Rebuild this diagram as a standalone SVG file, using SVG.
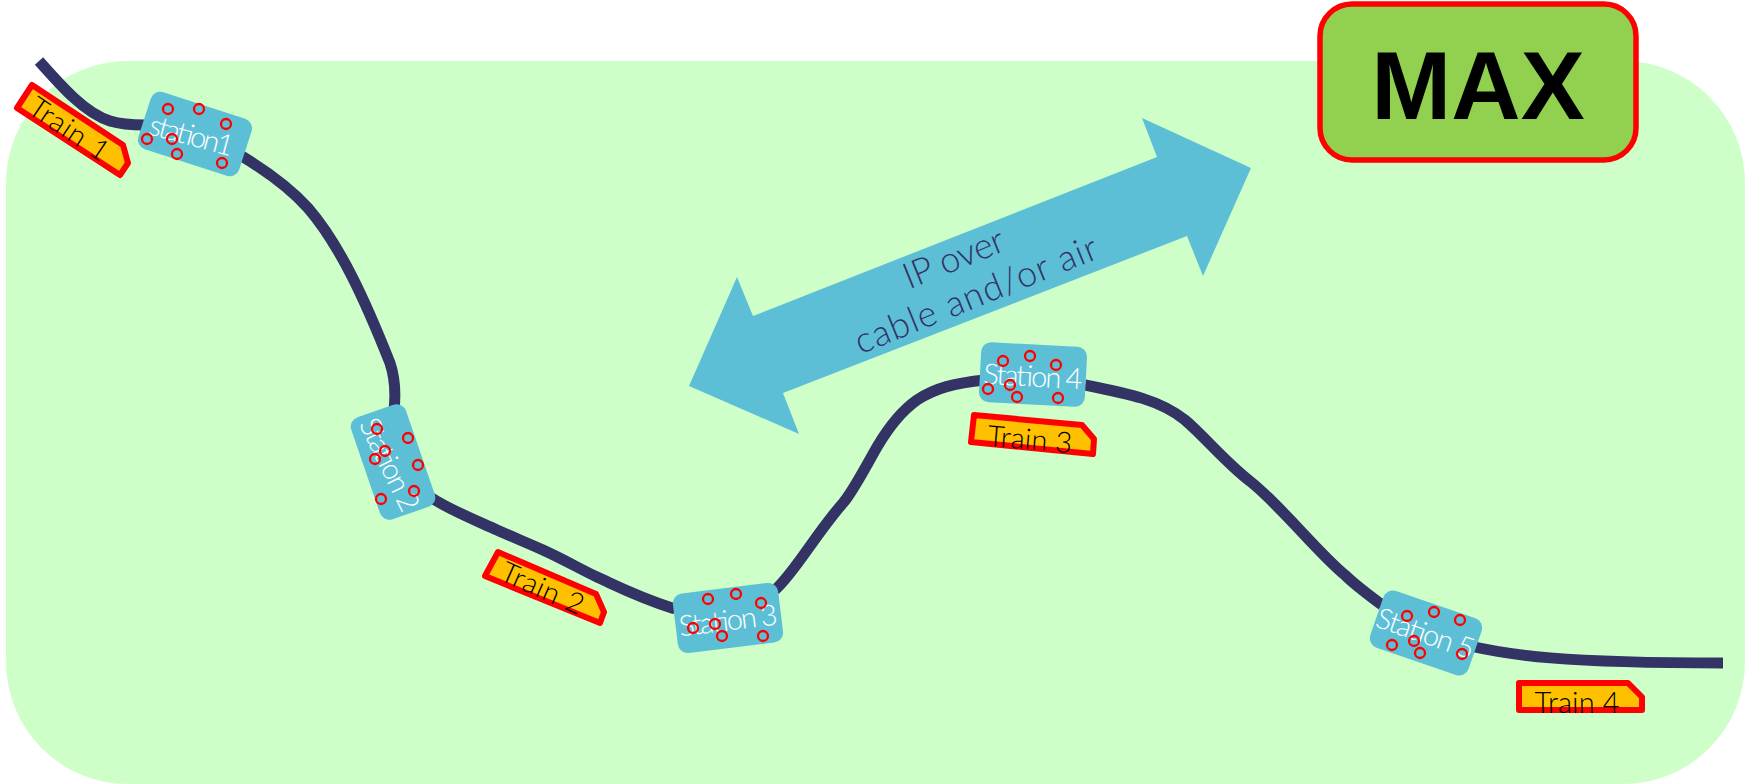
<svg xmlns="http://www.w3.org/2000/svg" width="1752" height="784" viewBox="0 0 1752 784">
<style>
.st{fill:#5DBFD6}
.c{fill:none;stroke:#FF0000;stroke-width:2.3}
.lab{font-family:"Lato","Liberation Sans",sans-serif;font-weight:300;font-size:29px;text-anchor:middle;dominant-baseline:central}
.w{fill:#FFFFFF}
.k{fill:#000000}
.tr{fill:#FFC000;stroke:#FF0000;stroke-width:6;stroke-linejoin:round}
.line{fill:none;stroke:#333366;stroke-width:11}
</style>
<rect id="background" x="6" y="61" width="1739" height="723" rx="122" ry="122" fill="#CFFFC9"/>
<g id="connectors">
<path class="line" d="M39,61 C62,87 85,113 110,121 C120,124 130,125 145,125"/>
<path class="line" d="M240,155 C265,170 290,188 308,208 C340,245 365,300 390,363 C395,378 396,392 394,410"/>
<path class="line" d="M430,497 C450,510 475,520 497,530 C515,538 530,544 543,550 C565,560 580,569 597,577 C615,585 635,596 675,609"/>
<path class="line" d="M775,590 C795,572 815,535 843,503 C852,493 865,468 877,447 C887,430 900,412 917,400 C935,388 955,383 985,380"/>
<path class="line" d="M1085,385 C1130,394 1160,400 1185,420 C1205,437 1225,462 1251,482 C1280,505 1320,555 1345,575 C1355,585 1370,596 1382,605"/>
<path class="line" d="M1470,646 C1510,655 1560,663 1723,663"/>
</g>
<g id="arrow">
<polygon class="st" points="1142,118 1251,168 1203,276 1187,236 783,393 799,434 689,386 737,277 753,316 1157,157"/>
<text transform="translate(970,280) rotate(-22)" font-family="Lato,'Liberation Sans',sans-serif" font-weight="300" font-size="36" fill="#333366" text-anchor="middle"><tspan x="-7" y="-14" textLength="106">IP over</tspan><tspan x="0" y="28" textLength="259">cable and/or air</tspan></text>
</g>
<g id="max">
<rect x="1320" y="4" width="316" height="156" rx="32" ry="32" fill="#92D050" stroke="#FF0000" stroke-width="5.5"/>
<text x="1478" y="119" font-family="'Liberation Sans',sans-serif" font-weight="700" font-size="96" fill="#000000" text-anchor="middle">MAX</text>
</g>
<g id="train1">
<polygon class="tr" points="32,85 17,108 120,175 128,163 123,145"/>
<text class="lab k" textLength="90" transform="translate(70,128) rotate(34)">Train 1</text>
</g>
<g id="train2">
<polygon class="tr" points="498,552 596,594 604,612 600,623 485,576"/>
<text class="lab k" textLength="88" transform="translate(543,587) rotate(24)">Train 2</text>
</g>
<g id="train3">
<polygon class="tr" points="974,415 1082,425 1094,439 1093,454 971,442"/>
<text class="lab k" textLength="85" transform="translate(1030,438) rotate(5)">Train 3</text>
</g>
<g id="train4">
<polygon class="tr" points="1519,683 1628,683 1642,697 1642,710 1519,710"/>
<text class="lab k" textLength="85" transform="translate(1577,701)">Train 4</text>
</g>
<g id="station1">
<rect class="st" x="-53" y="-30" width="106" height="60" rx="10" transform="translate(195,134) rotate(18)"/>
<text class="lab w" textLength="86" transform="translate(192,134) rotate(15)">station1</text>
<circle class="c" cx="168" cy="109" r="5"/><circle class="c" cx="199" cy="109" r="5"/><circle class="c" cx="226" cy="124" r="5"/><circle class="c" cx="147" cy="139" r="5"/><circle class="c" cx="172" cy="139" r="5"/><circle class="c" cx="177" cy="154" r="5"/><circle class="c" cx="222" cy="163" r="5"/>
</g>
<g id="station2">
<rect class="st" x="-54" y="-29" width="108" height="58" rx="10" transform="translate(393,462) rotate(71)"/>
<text class="lab w" textLength="100" transform="translate(391,464) rotate(64)">Station 2</text>
<circle class="c" cx="377" cy="429" r="5"/><circle class="c" cx="408" cy="438" r="5"/><circle class="c" cx="418" cy="465" r="5"/><circle class="c" cx="385" cy="451" r="5"/><circle class="c" cx="375" cy="459" r="5"/><circle class="c" cx="414" cy="491" r="5"/><circle class="c" cx="381" cy="499" r="5"/>
</g>
<g id="station3">
<rect class="st" x="-53" y="-30" width="106" height="60" rx="10" transform="translate(728,618) rotate(-7)"/>
<text class="lab w" textLength="99" transform="translate(728,619) rotate(-7)">Station 3</text>
<circle class="c" cx="708" cy="599" r="5"/><circle class="c" cx="736" cy="594" r="5"/><circle class="c" cx="761" cy="603" r="5"/><circle class="c" cx="693" cy="628" r="5"/><circle class="c" cx="715" cy="624" r="5"/><circle class="c" cx="722" cy="636" r="5"/><circle class="c" cx="763" cy="636" r="5"/>
</g>
<g id="station4">
<rect class="st" x="-53" y="-30" width="106" height="60" rx="10" transform="translate(1033,374.5) rotate(3)"/>
<text class="lab w" textLength="99" transform="translate(1033,375) rotate(3)">Station 4</text>
<circle class="c" cx="1003" cy="361" r="5"/><circle class="c" cx="1030" cy="356" r="5"/><circle class="c" cx="1056" cy="365" r="5"/><circle class="c" cx="988" cy="389" r="5"/><circle class="c" cx="1010" cy="385" r="5"/><circle class="c" cx="1017" cy="397" r="5"/><circle class="c" cx="1058" cy="398" r="5"/>
</g>
<g id="station5">
<rect class="st" x="-52" y="-30" width="104" height="60" rx="10" transform="translate(1426,633) rotate(19)"/>
<text class="lab w" textLength="102" transform="translate(1426,632) rotate(19)">Station 5</text>
<circle class="c" cx="1407" cy="616" r="5"/><circle class="c" cx="1434" cy="612" r="5"/><circle class="c" cx="1460" cy="620" r="5"/><circle class="c" cx="1392" cy="645" r="5"/><circle class="c" cx="1414" cy="641" r="5"/><circle class="c" cx="1420" cy="653" r="5"/><circle class="c" cx="1462" cy="654" r="5"/>
</g>
</svg>
